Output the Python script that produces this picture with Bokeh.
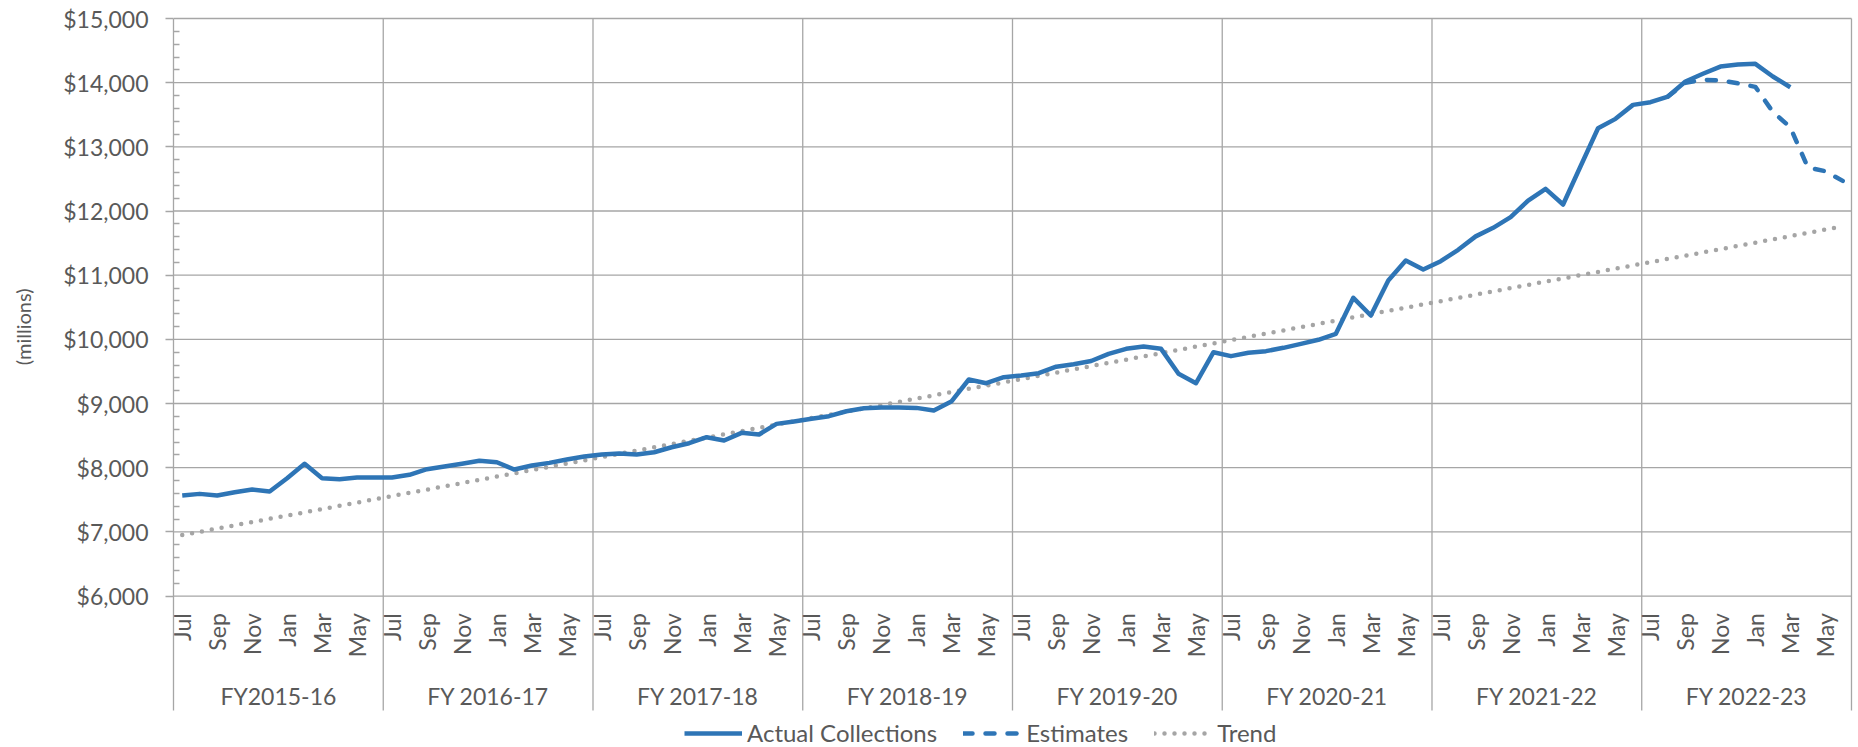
import math
from bokeh.plotting import figure
from bokeh.models import (Range1d, FixedTicker, NumeralTickFormatter, Legend,
                          LegendItem, Title, ColumnDataSource)
from bokeh.core.properties import value
from bokeh.embed import file_html
from bokeh.resources import INLINE

# ---------------- data ----------------
fy_labels = ["FY2015-16", "FY 2016-17", "FY 2017-18", "FY 2018-19",
             "FY 2019-20", "FY 2020-21", "FY 2021-22", "FY 2022-23"]
month_names = ["Jul", "Aug", "Sep", "Oct", "Nov", "Dec",
               "Jan", "Feb", "Mar", "Apr", "May", "Jun"]

# Actual collections, $ millions, monthly from Jul 2015 to Mar 2023
actual = [7566, 7592, 7566, 7618, 7660, 7628, 7836, 8060, 7836, 7821, 7846, 7846,
          7846, 7889, 7977, 8018, 8060, 8107, 8085, 7971, 8034, 8075, 8127, 8174,
          8205, 8221, 8205, 8241, 8319, 8381, 8475, 8423, 8543, 8517, 8683, 8720,
          8762, 8803, 8880, 8927, 8938, 8938, 8932, 8891, 9031, 9374, 9317, 9410,
          9436, 9473, 9574, 9611, 9662, 9774, 9852, 9888, 9852, 9463, 9317, 9800,
          9738, 9790, 9816, 9868, 9930, 9993, 10086, 10647, 10371, 10917, 11228, 11088,
          11218, 11395, 11605, 11738, 11904, 12163, 12346, 12101, 12698, 13290, 13436, 13654,
          13696, 13784, 14018, 14138, 14251, 14282, 14293, 14096, 13929]

# Estimates, $ millions, Aug 2022 to Jun 2023
estimate_first_month = 85
estimates = [13784, 14000, 14045, 14035, 13990, 13935, 13545, 13305, 12680, 12620, 12470]

# Linear trend line (end points)
trend_months = [0, 95]
trend_values = [6950, 11760]

y_ticks = [6000, 7000, 8000, 9000, 10000, 11000, 12000, 13000, 14000, 15000]
y_minor = [v for v in range(6000, 15001, 200) if v % 1000 != 0]

# ---------------- layout constants ----------------
W, H = 1858, 747
FL, FR = 173, 1855          # frame left / right in px
SLOT = 17.479               # px per month slot
YPX = 0.06417               # px per $ million
TOP_PX = 18                 # px of the top gridline
x_start = -0.5
x_end = x_start + (FR - FL) / SLOT
y_end = 15000 + TOP_PX / YPX
y_start = 15000 - (H - TOP_PX) / YPX


def below_axis(px):
    """data y that lies px pixels below the bottom gridline"""
    return y_ticks[0] - px / YPX


BLUE = "#2E75B6"
GREY_TREND = "#A5A5A5"
GRID = "#A6A6A6"
TXT = "#595959"
FONT = "Lato"

n_months = 12 * len(fy_labels)

p = figure(width=W, height=H, output_backend="svg", toolbar_location=None,
           x_range=Range1d(x_start, x_end), y_range=Range1d(y_start, y_end),
           x_axis_location=None, min_border_left=FL, min_border_right=W - FR,
           min_border_top=0, min_border_bottom=0)
p.outline_line_color = None
p.grid.visible = False

# y axis
ax = p.yaxis[0]
ax.ticker = FixedTicker(ticks=y_ticks, minor_ticks=y_minor)
ax.formatter = NumeralTickFormatter(format="$0,0")
ax.bounds = (below_axis(114.5), y_ticks[-1])
ax.axis_line_color = GRID
ax.axis_line_width = 1.3
ax.major_tick_line_color = GRID
ax.major_tick_line_width = 1.3
ax.major_tick_out = 8
ax.major_tick_in = 0
ax.minor_tick_line_color = GRID
ax.minor_tick_line_width = 1.3
ax.minor_tick_in = 6
ax.minor_tick_out = 0
ax.major_label_standoff = 17
ax.major_label_text_font = FONT
ax.major_label_text_font_size = "23px"
ax.major_label_text_color = TXT

# small blank spacer between tick labels and the y axis title
p.add_layout(Title(text=" ", standoff=15, text_font_size="1px"), "left")
# y axis title, as a vertical title left of the tick labels
p.add_layout(Title(text="(millions)", align="right", offset=288,
                   vertical_align="middle", standoff=14,
                   text_font=FONT, text_font_size="20px",
                   text_font_style="normal", text_color=TXT), "left")

# horizontal gridlines
p.segment(x0=[x_start] * len(y_ticks), x1=[x_start + n_months] * len(y_ticks),
          y0=y_ticks, y1=y_ticks, line_color=GRID, line_width=1.3)

# fiscal-year separators (run through plot and category labels)
bounds = [12 * (k + 1) - 0.5 for k in range(len(fy_labels))]
p.segment(x0=bounds, x1=bounds, y0=[below_axis(114.5)] * len(bounds),
          y1=[y_ticks[-1]] * len(bounds), line_color=GRID, line_width=1.3)

# month labels (every other month)
m_idx = list(range(0, n_months, 2))
month_src = ColumnDataSource(dict(x=m_idx, y=[below_axis(17.2)] * len(m_idx),
                                  t=[month_names[i % 12] for i in m_idx]))
p.text(x="x", y="y", text="t", source=month_src, angle=math.pi / 2,
       text_align="right", text_baseline="middle", text_font=value(FONT),
       text_font_size="23px", text_color=TXT)

# fiscal year labels
fy_src = ColumnDataSource(dict(x=[12 * k + 5.5 for k in range(len(fy_labels))],
                               y=[below_axis(99.5)] * len(fy_labels), t=fy_labels))
p.text(x="x", y="y", text="t", source=fy_src, text_align="center",
       text_baseline="middle", text_font=value(FONT), text_font_size="23px",
       text_color=TXT)

# series
r_trend = p.line(trend_months, trend_values, line_color=GREY_TREND, line_width=4.5,
                 line_dash="0 10", line_cap="round")
r_est = p.line(list(range(estimate_first_month, estimate_first_month + len(estimates))),
               estimates, line_color=BLUE, line_width=4.5, line_dash="9 13",
               line_cap="round", line_join="round")
r_act = p.line(list(range(len(actual))), actual, line_color=BLUE, line_width=4.5,
               line_join="round")

legend = Legend(items=[LegendItem(label="Actual Collections", renderers=[r_act]),
                       LegendItem(label="Estimates", renderers=[r_est]),
                       LegendItem(label="Trend", renderers=[r_trend])],
                orientation="horizontal", location=(511, 0),
                glyph_width=58, glyph_height=12, label_height=12,
                label_standoff=5, spacing=26, padding=0, margin=0,
                label_text_font=FONT, label_text_font_size="24px",
                label_text_color=TXT, label_text_baseline="middle",
                border_line_color=None, background_fill_color=None)
p.add_layout(legend)

open("out.html", "w").write(file_html(p, INLINE))
